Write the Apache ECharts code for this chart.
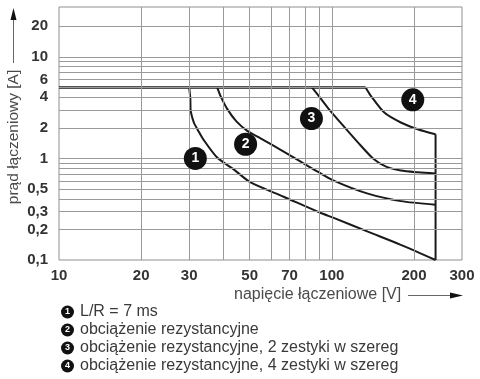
<!DOCTYPE html>
<html><head><meta charset="utf-8">
<script src="https://cdn.jsdelivr.net/npm/echarts@6/dist/echarts.min.js"></script>
<style>html,body{margin:0;padding:0;background:#fff}#c{width:480px;height:379px}</style>
</head><body><div id="c"></div>
<script>
// ---- data ----
const xTickValues = [10, 20, 30, 50, 70, 100, 200, 300];
const xTickLabels = ['10', '20', '30', '50', '70', '100', '200', '300'];
const yTickValues = [0.1, 0.2, 0.3, 0.5, 1, 2, 4, 6, 10, 20];
const yTickLabels = ['0,1', '0,2', '0,3', '0,5', '1', '2', '4', '6', '10', '20'];
const xGridValues = [20, 30, 40, 50, 60, 70, 80, 90, 100, 200];
const yGridValues = [0.2, 0.3, 0.4, 0.5, 0.6, 0.7, 0.8, 0.9, 1, 2, 3, 4, 5, 6, 7, 8, 9, 10, 20];

const limitLine = [[10, 5], [133, 5]];
const curve1 = [[30, 5], [30.3, 3.84], [30.35, 3.06], [31.2, 2.26], [32.3, 1.9], [33.8, 1.54], [38, 1.02], [43.7, 0.78], [50.4, 0.58], [66.6, 0.42], [91.2, 0.29], [101.6, 0.26], [135.5, 0.19], [179, 0.141], [240, 0.1]];
const curve2 = [[38, 5], [39.1, 4.11], [41.4, 3.06], [44.7, 2.32], [49, 1.87], [54.8, 1.58], [66.6, 1.17], [76.9, 0.93], [88.8, 0.74], [101.6, 0.605], [135.5, 0.45], [179, 0.38], [240, 0.35]];
const curve3 = [[84.5, 5], [89.6, 4.11], [97.5, 3.06], [110.6, 2.07], [124.6, 1.44], [141.6, 1.0], [158, 0.83], [179, 0.76], [207, 0.73], [240, 0.71]];
const curve4 = [[133, 5], [139, 4.14], [155.7, 2.83], [179, 2.26], [206.5, 1.94], [240, 1.73]];
const cutoffLine = [[240, 1.73], [240, 0.1]];

const legendNames = ['L/R = 7 ms', 'obciążenie rezystancyjne', 'obciążenie rezystancyjne, 2 zestyki w szereg', 'obciążenie rezystancyjne, 4 zestyki w szereg'];
const badgeLabels = ['1', '2', '3', '4'];
const badgePositions = [[31.6, 1.0], [48.3, 1.38], [84.2, 2.47], [198, 3.78]];

const yTitle = 'prąd łączeniowy [A]';
const xTitle = 'napięcie łączeniowe [V]';

// ---- chart ----
const FONT = '"Liberation Sans", Arial, Helvetica, sans-serif';
const INK = '#1a1a1a';
function pick(values, labels, v) {
  for (let i = 0; i < values.length; i++) {
    if (Math.abs(Math.log10(values[i]) - Math.log10(v)) < 1e-6) return labels[i];
  }
  return '';
}
const curves = [curve1, curve2, curve3, curve4];
const curveSeries = curves.map((d, i) => ({
  name: legendNames[i], type: 'line', data: d, symbol: 'none', smooth: 0.25,
  lineStyle: { color: INK, width: 2 }, itemStyle: { color: INK }, z: 3, silent: true
}));

const chart = echarts.init(document.getElementById('c'), null, { renderer: 'canvas' });
chart.setOption({
  animation: false,
  grid: { left: 59, right: 18, top: 7, bottom: 119, show: true, borderColor: '#8f8f8f', borderWidth: 1 },
  xAxis: {
    type: 'log', logBase: 10, min: 10, max: 300,
    axisLine: { show: false }, axisTick: { show: false }, splitLine: { show: false },
    axisLabel: {
      customValues: xTickValues, margin: 8,
      formatter: v => pick(xTickValues, xTickLabels, v),
      fontFamily: FONT, fontSize: 15, fontWeight: 'bold', color: '#333'
    }
  },
  yAxis: {
    type: 'log', logBase: 10, min: 0.1, max: 31,
    axisLine: { show: false }, axisTick: { show: false }, splitLine: { show: false },
    axisLabel: {
      customValues: yTickValues, margin: 11,
      formatter: v => pick(yTickValues, yTickLabels, v),
      fontFamily: FONT, fontSize: 15, fontWeight: 'bold', color: '#333'
    }
  },
  legend: {
    orient: 'vertical', left: 51, top: 299, itemGap: 2, selectedMode: false,
    icon: 'none', itemWidth: 0, itemHeight: 14,
    data: legendNames,
    formatter: name => '{b|' + badgeLabels[legendNames.indexOf(name)] + '}{s|}{t|' + name + '}',
    textStyle: {
      rich: {
        b: { width: 13, height: 13, lineHeight: 13, borderRadius: 6.5, backgroundColor: '#111', color: '#fff', fontSize: 9, fontWeight: 'bold', align: 'center', fontFamily: FONT },
        s: { width: 6 },
        t: { fontSize: 16, color: '#3a3a3a', fontFamily: FONT, lineHeight: 16.5 }
      }
    }
  },
  series: [
    {
      type: 'line', data: limitLine, symbol: 'none', lineStyle: { opacity: 0 }, z: 1, silent: true,
      markLine: {
        silent: true, symbol: ['none', 'none'], label: { show: false }, animation: false,
        lineStyle: { color: '#9a9a9a', width: 1, type: 'solid' },
        emphasis: { disabled: true },
        data: xGridValues.map(v => ({ xAxis: v })).concat(yGridValues.map(v => ({ yAxis: v })))
      }
    },
    { type: 'line', data: limitLine, symbol: 'none', lineStyle: { color: INK, width: 2.6 }, z: 3, silent: true },
    ...curveSeries,
    { type: 'line', data: cutoffLine, symbol: 'none', lineStyle: { color: INK, width: 2 }, z: 3, silent: true },
    {
      type: 'scatter', data: badgePositions, symbol: 'circle', symbolSize: 23, z: 5, silent: true, clip: false,
      itemStyle: { color: '#111', opacity: 1 },
      label: {
        show: true, position: 'inside', color: '#fff', fontSize: 14, fontWeight: 'bold', fontFamily: FONT,
        formatter: p => badgeLabels[p.dataIndex]
      }
    }
  ],
  graphic: [
    { type: 'text', x: 14, y: 137, rotation: Math.PI / 2,
      style: { text: yTitle, font: '15.5px ' + FONT, fill: '#4a4a4a', align: 'center', verticalAlign: 'middle' } },
    { type: 'line', shape: { x1: 13.5, y1: 63, x2: 13.5, y2: 18 }, style: { stroke: '#666', lineWidth: 1 } },
    { type: 'polygon', shape: { points: [[13.5, 8], [10.5, 20], [16.5, 20]] }, style: { fill: '#111' } },
    { type: 'text', x: 234, y: 295,
      style: { text: xTitle, font: '16px ' + FONT, fill: '#4a4a4a', align: 'left', verticalAlign: 'middle' } },
    { type: 'line', shape: { x1: 408, y1: 295.5, x2: 452, y2: 295.5 }, style: { stroke: '#666', lineWidth: 1 } },
    { type: 'polygon', shape: { points: [[463, 295.5], [450, 292.5], [450, 298.5]] }, style: { fill: '#111' } }
  ]
});
</script>
</body></html>
